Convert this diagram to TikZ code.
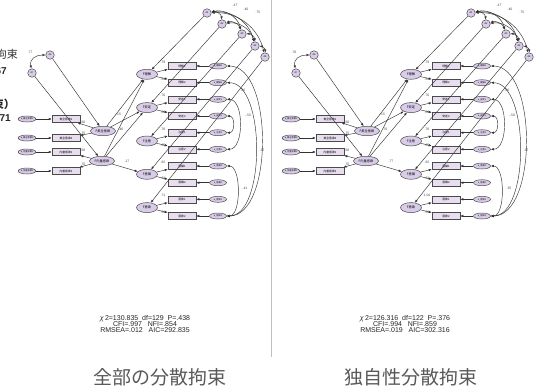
\documentclass[tikz,border=0pt]{standalone}
\usepackage{fontspec}
\setmainfont{Liberation Sans}
\newfontfamily\jp{Noto Sans CJK JP}
\usetikzlibrary{arrows.meta,shapes.geometric}
\definecolor{boxfill}{HTML}{E8DEF0}
\definecolor{ovfill}{HTML}{D9CCE8}
\definecolor{edgec}{HTML}{4A4A4A}
\tikzset{
 obs/.style={draw=edgec, fill=boxfill, line width=0.5pt, minimum width=28pt, minimum height=7pt, inner sep=0pt, font=\jp\fontsize{2.8}{3}\selectfont},
 lat/.style={ellipse, draw=edgec, fill=ovfill, line width=0.5pt, minimum width=21pt, minimum height=10pt, inner sep=0pt, font=\jp\fontsize{3.2}{3.5}\selectfont},
 latw/.style={lat, minimum width=25pt, minimum height=9.5pt},
 erv/.style={ellipse, draw=edgec, fill=ovfill, line width=0.5pt, minimum width=17pt, minimum height=6pt, inner sep=0pt, font=\jp\fontsize{2.2}{2.4}\selectfont},
 dis/.style={circle, draw=edgec, fill=ovfill, line width=0.5pt, minimum size=8.5pt, inner sep=0pt, font=\fontsize{2.4}{2.5}\selectfont},
 arr/.style={-{Latex[length=3pt,width=2.4pt]}, draw=black!80, line width=0.45pt},
 cov/.style={{Latex[length=3pt,width=2.4pt]}-{Latex[length=3pt,width=2.4pt]}, draw=black!80, line width=0.45pt},
 lbl/.style={font=\fontsize{3.4}{3.5}\selectfont, text=black!70, inner sep=0pt},
 stat/.style={font=\fontsize{7}{6.4}\selectfont, text=black!85, align=center},
 captxt/.style={font=\jp\fontsize{19}{20}\selectfont, text=black!65},
}
\newcommand\amospanel[1]{%
\begin{scope}[xshift=#1]
 % left part
 \node[dis] (d6) at (50,55) {d6};
 \node[dis] (d7) at (32,73) {d7};
 \draw[cov] (d7) to[out=100,in=180,looseness=1.3] (d6);
 \node[lbl] (lc0) at (30,52) {\Lc};
 \foreach \n/\y/\t in {ra1/119/美全意欲1, ra2/138/美全意欲2, rb1/152/内量感欲1, rb2/171/内量感欲2}{
   \node[obs] (\n) at (66,\y) {\t};
   \node[erv] (x\n) at (27,\y) {e\_\t};
   \draw[arr] (x\n) -- (\n);
 }
 \node[latw] (FA) at (103,131) {F美全意欲};
 \node[latw] (FB) at (102,161) {F内量感欲};
 \draw[arr] (d6) -- (FA);
 \draw[arr] (d7) -- (FB);
 \draw[arr] (FA) -- (ra1); \draw[arr] (FA) -- (ra2);
 \draw[arr] (FB) -- (rb1); \draw[arr] (FB) -- (rb2);
 \node[lbl] at (83,122) {\La}; \node[lbl] at (83,133) {\Lb};
 \node[lbl] at (83,150) {\Lcc}; \node[lbl] at (83,164) {\Ld};
 % middle latents
 \foreach \k/\y/\t in {1/74.3/F理解, 2/107.6/F安定, 3/141/F注意, 4/174.3/F意識, 5/207.6/F意欲}{
   \node[lat] (L\k) at (147,\y) {\t};
 }
 \foreach \i/\y/\t in {1/66/理解1, 2/82.7/理解2, 3/99.3/安定1, 4/116/安定2, 5/132.7/注意1, 6/149.3/注意2, 7/166/意識1, 8/182.7/意識2, 9/199.3/意欲1, 10/216/意欲2}{
   \node[obs] (R\i) at (182,\y) {\t};
   \node[erv] (E\i) at (218,\y) {e\_\t};
   \draw[arr] (E\i) -- (R\i);
 }
 \foreach \k/\a/\b in {1/1/2, 2/3/4, 3/5/6, 4/7/8, 5/9/10}{
   \draw[arr] (L\k) -- (R\a); \draw[arr] (L\k) -- (R\b);
 }
 % disturbances of middle latents
 \node[dis] (C1) at (207,13) {d1};
 \node[dis] (C2) at (222,24) {d2};
 \node[dis] (C3) at (242,34) {d3};
 \node[dis] (C4) at (255,46) {d4};
 \node[dis] (C5) at (265,57) {d5};
 \foreach \k in {1,...,5}{ \draw[arr] (C\k) -- (L\k); }
 \draw[cov] (C1) to[bend left=50] (C2);
 \draw[cov] (C1) to[bend left=45] (C3);
 \draw[cov] (C1) to[bend left=42] (C4);
 \draw[cov] (C1) to[bend left=40] (C5);
 \draw[cov] (C2) to[bend left=45] (C3);
 \draw[cov] (C2) to[bend left=42] (C4);
 \draw[cov] (C3) to[bend left=45] (C4);
 \draw[cov] (C4) to[bend left=45] (C5);
 \node[lbl] at (235,5) {\Ta}; \node[lbl] at (246,9) {\Tb}; \node[lbl] at (258,12) {\Tc};
 % structural paths
 \draw[arr] (FA) -- (L1); \draw[arr] (FA) -- (L2);
 \draw[arr] (FB) -- (L1); \draw[arr] (FB) -- (L2); \draw[arr] (FB) -- (L4);
 \node[lbl] at (118,114) {\Sa}; \node[lbl] at (121,129) {\Sb}; \node[lbl] at (127,161) {\Sc};
 % loadings labels
 \foreach \i/\y in {1/62, 2/79, 3/95.5, 4/112, 5/129, 6/145.5, 7/162, 8/178.5, 9/195.5, 10/212}{
   \node[lbl] at (163,\y) {\csname LL\i\endcsname};
 }
 % error covariances
 \draw[cov] (E1.east) to[out=0,in=0,looseness=0.8] (E10.east);
 \draw[cov] (E2.east) to[out=0,in=0,looseness=0.75] (E10.east);
 \draw[cov] (E3.east) to[out=0,in=0,looseness=0.9] (E6.east);
 \draw[cov] (E4.east) to[out=0,in=0,looseness=1.3] (E5.east);
 \draw[cov] (E7.east) to[out=0,in=0,looseness=0.75] (E10.east);
 \node[lbl] at (243,90) {\Ea}; \node[lbl] at (248,115) {\Eb};
 \node[lbl] at (245,188) {\Ec}; \node[lbl] at (262,150) {\Ed};
\end{scope}}
\begin{document}
\begin{tikzpicture}[x=1pt,y=-1pt]
\useasboundingbox (0,0) rectangle (535,389);
\fill[white] (0,0) rectangle (535,389);
\begin{scope}
\clip (0,0) rectangle (535,389);
\node[anchor=east, font=\jp\fontsize{11}{12}\selectfont, text=black!80, inner sep=0pt] (cut1) at (18,54) {分散拘束};
\node[anchor=east, font=\fontsize{10}{12}\selectfont\bfseries, text=black!85, inner sep=0pt] (cut2) at (7,71) {.867};
\node[anchor=east, font=\jp\fontsize{11}{12}\selectfont\bfseries, text=black!85, inner sep=0pt] (cut3) at (15,104) {分散拘束）};
\node[anchor=east, font=\fontsize{10}{12}\selectfont\bfseries, text=black!85, inner sep=0pt] (cut4) at (11,118) {.971};
\end{scope}
\draw[black!25, line width=0.6pt] (271,0) -- (271,357);
% left panel labels
\def\Lc{.77}\def\La{.60}\def\Lb{.75}\def\Lcc{.68}\def\Ld{.70}
\def\Ta{.47}\def\Tb{.40}\def\Tc{.75}
\def\Sa{-.15}\def\Sb{.46}\def\Sc{.17}
\expandafter\def\csname LL1\endcsname{.79}\expandafter\def\csname LL2\endcsname{.81}
\expandafter\def\csname LL3\endcsname{.70}\expandafter\def\csname LL4\endcsname{.60}
\expandafter\def\csname LL5\endcsname{.76}\expandafter\def\csname LL6\endcsname{.65}
\expandafter\def\csname LL7\endcsname{.82}\expandafter\def\csname LL8\endcsname{.33}
\expandafter\def\csname LL9\endcsname{.71}\expandafter\def\csname LL10\endcsname{.52}
\def\Ea{.66}\def\Eb{-.50}\def\Ec{.41}\def\Ed{.27}
\amospanel{0}
% right panel labels
\def\Lc{.78}\def\Sb{.70}\def\Sc{.77}
\expandafter\def\csname LL8\endcsname{.62}\expandafter\def\csname LL9\endcsname{1.04}
\def\Ec{.35}
\amospanel{264}
\node[stat] (st1) at (145,324) {\textit{χ}\,2=130.835\ \ df=129\ \ P=.438\\CFI=.997\ \ \ NFI=.854\\RMSEA=.012\ \ \ AIC=292.835};
\node[stat] (st2) at (405,324) {\textit{χ}\,2=126.316\ \ df=122\ \ P=.376\\CFI=.994\ \ \ NFI=.859\\RMSEA=.019\ \ \ AIC=302.316};
\node[captxt] (cp1) at (160,377) {全部の分散拘束};
\node[captxt] (cp2) at (411,377) {独自性分散拘束};
\end{tikzpicture}
\end{document}
